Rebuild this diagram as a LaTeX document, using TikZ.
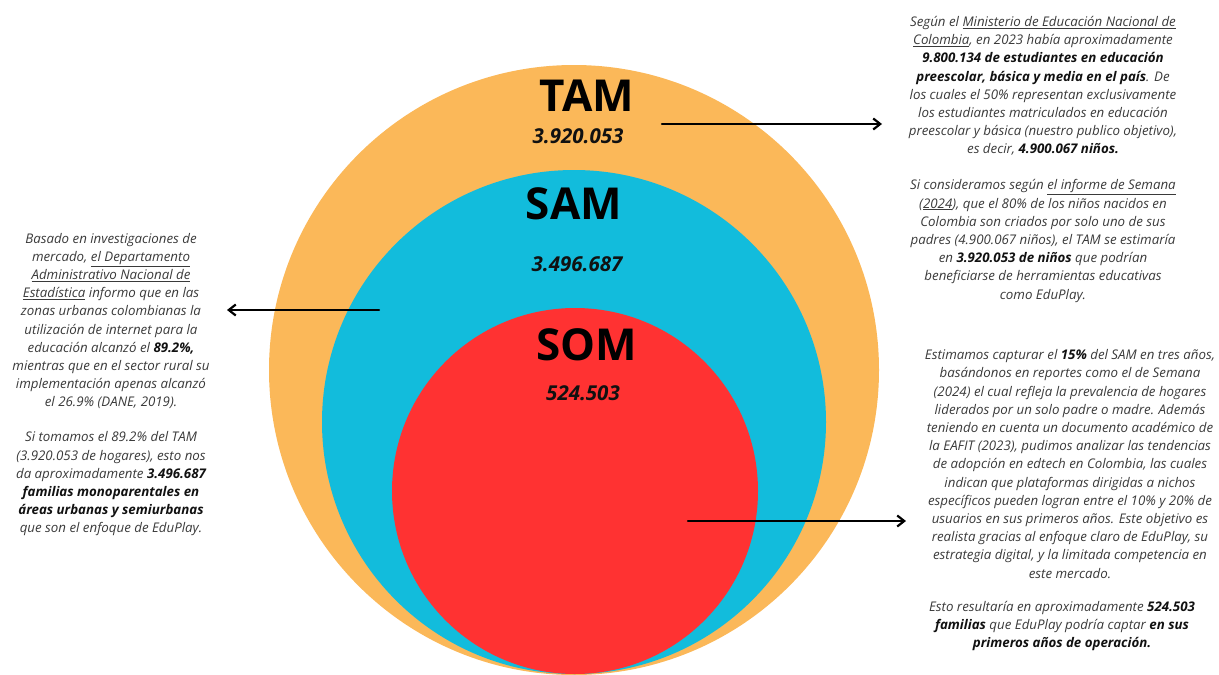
\documentclass[tikz,border=0pt]{standalone}
\usepackage{fontspec}
\setmainfont{Open Sans}
\usetikzlibrary{arrows.meta}
\usepackage{xcolor}
\definecolor{tamOrange}{HTML}{FBB859}
\definecolor{samCyan}{HTML}{12BCDC}
\definecolor{somRed}{HTML}{FF3232}
\definecolor{txtInk}{HTML}{3A3A3A}
\definecolor{txtBold}{HTML}{111111}

% bold run inside the grey italic notes
\newcommand{\hl}[1]{{\bfseries\color{txtBold}#1}}

\begin{document}
\begin{tikzpicture}[x=1pt, y=-1pt, line cap=round,
  bigLbl/.style={inner sep=0, text=black, font=\fontsize{44}{48}\selectfont\bfseries},
  numLbl/.style={inner sep=0, text=txtBold, font=\fontsize{20.5}{24}\selectfont\bfseries\itshape},
  note/.style={inner sep=0, align=center, text=txtInk,
               font=\fontsize{13.3}{18.2}\selectfont\itshape},
  pointer/.style={line width=2.2pt, black,
                  -{Straight Barb[length=7pt, width=11pt]}}]

\useasboundingbox (0,0) rectangle (1219,675);

% --- nested markets ---
\fill[tamOrange] (574,370) circle (305pt);
\fill[samCyan]   (574,422) circle (252pt);
\fill[somRed]    (575,491) circle (183pt);

% --- labels in the circles ---
\node[bigLbl] (tam)    at (587,96)  {TAM};
\node[numLbl] (tamVal) at (578,136) {3.920.053};
\node[bigLbl] (sam)    at (574,204) {SAM};
\node[numLbl] (samVal) at (577,264) {3.496.687};
\node[bigLbl] (som)    at (587,345) {SOM};
\node[numLbl] (somVal) at (583,393) {524.503};

% --- notes: right top (TAM) ---
\node[note] (tamNoteA) at (1043,86)
  {Según el \underline{Ministerio de Educación Nacional de}\\
   \underline{Colombia}, en 2023 había aproximadamente\\
   \hl{9.800.134 de estudiantes en educación}\\
   \hl{preescolar, básica y media en el país}. De\\
   los cuales el 50\% representan exclusivamente\\
   los estudiantes matriculados en educación\\
   preescolar y básica (nuestro publico objetivo),\\
   es decir, \hl{4.900.067 niños.}};
\node[note] (tamNoteB) at (1043,241)
  {Si consideramos según \underline{el informe de Semana}\\
   (\underline{2024}), que el 80\% de los niños nacidos en\\
   Colombia son criados por solo uno de sus\\
   padres (4.900.067 niños), el TAM se estimaría\\
   en \hl{3.920.053 de niños} que podrían\\
   beneficiarse de herramientas educativas\\
   como EduPlay.};

% --- notes: left (SAM) ---
\node[note] (samNoteA) at (111,321)
  {Basado en investigaciones de\\
   mercado, \underline{el Departamento}\\
   \underline{Administrativo Nacional de}\\
   \underline{Estadística} informo que en las\\
   zonas urbanas colombianas la\\
   utilización de internet para la\\
   educación alcanzó el \hl{89.2\%,}\\
   mientras que en el sector rural su\\
   implementación apenas alcanzó\\
   el 26.9\% (DANE, 2019).};
\node[note] (samNoteB) at (111,484)
  {Si tomamos el 89.2\% del TAM\\
   (3.920.053 de hogares), esto nos\\
   da aproximadamente \hl{3.496.687}\\
   \hl{familias monoparentales en}\\
   \hl{áreas urbanas y semiurbanas}\\
   que son el enfoque de EduPlay.};

% --- notes: right bottom (SOM) ---
\node[note] (somNoteA) at (1070,464)
  {Estimamos capturar el \hl{15\%} del SAM en tres años,\\
   basándonos en reportes como el de Semana\\
   (2024) el cual refleja la prevalencia de hogares\\
   liderados por un solo padre o madre. Además\\
   teniendo en cuenta un documento académico de\\
   la EAFIT (2023), pudimos analizar las tendencias\\
   de adopción en edtech en Colombia, las cuales\\
   indican que plataformas dirigidas a nichos\\
   específicos pueden logran entre el 10\% y 20\% de\\
   usuarios en sus primeros años. Este objetivo es\\
   realista gracias al enfoque claro de EduPlay, su\\
   estrategia digital, y la limitada competencia en\\
   este mercado.};
\node[note] (somNoteB) at (1062,626)
  {Esto resultaría en aproximadamente \hl{524.503}\\
   \hl{familias} que EduPlay podría captar \hl{en sus}\\
   \hl{primeros años de operación.}};

% --- pointers ---
\coordinate (tamFrom) at (662,124);
\coordinate (tamTo)   at (882,124);
\coordinate (samFrom) at (379,310);
\coordinate (samTo)   at (227,310);
\coordinate (somFrom) at (688,521);
\coordinate (somTo)   at (906,521);
\draw[pointer] (tamFrom) -- (tamTo);
\draw[pointer] (samFrom) -- (samTo);
\draw[pointer] (somFrom) -- (somTo);

\end{tikzpicture}
\end{document}
